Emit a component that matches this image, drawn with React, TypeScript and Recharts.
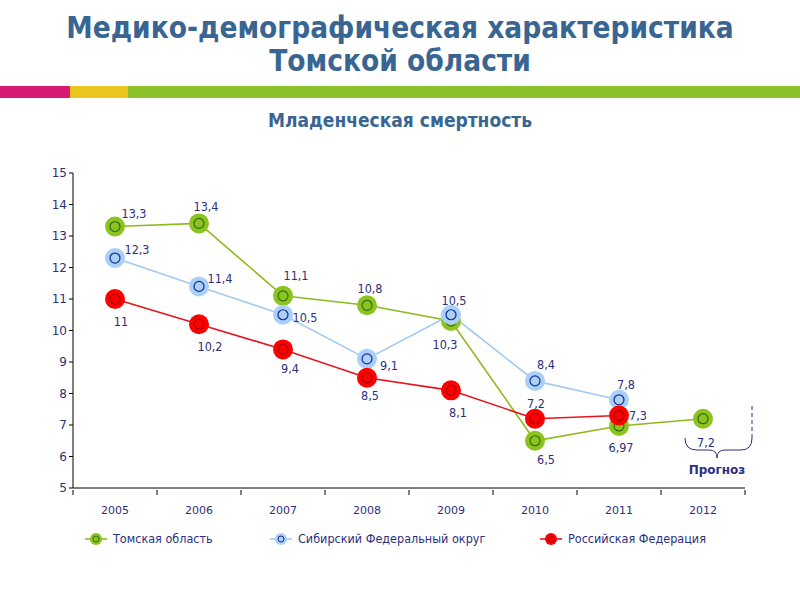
import { ComposedChart, Line, XAxis, YAxis, LabelList } from "recharts";

const years = ["2005", "2006", "2007", "2008", "2009", "2010", "2011", "2012"];
const tomsk = [13.3, 13.4, 11.1, 10.8, 10.3, 6.5, 6.97, 7.2];
const sfo = [12.3, 11.4, 10.5, 9.1, 10.5, 8.4, 7.8, null];
const rf = [11, 10.2, 9.4, 8.5, 8.1, 7.2, 7.3, null];
const yTicks = [5, 6, 7, 8, 9, 10, 11, 12, 13, 14, 15];

// label offsets relative to the point (style only)
const tomskOff = [[19, -13], [7, -17], [13, -20], [3, -17], [-6, 23], [11, 19], [2, 22], [3, 24]];
const sfoOff = [[22, -9], [21, -8], [22, 3], [22, 7], [3, -14], [11, -16], [7, -15]];
const rfOff = [[6, 22], [11, 22], [7, 19], [3, 18], [7, 22], [1, -15], [19, 0]];

const data = years.map((year, i) => ({ year, tomsk: tomsk[i], sfo: sfo[i], rf: rf[i] }));

const NAVY = "#2d2f7c";
const TITLE = "#386592";

const series = [
  { key: "tomsk", name: "Томская область", line: "#8dbb1e", fill: "#8cc31e", inner: "#2f6e12", off: tomskOff },
  { key: "sfo", name: "Сибирский Федеральный округ", line: "#a3cbf2", fill: "#a8d0f8", inner: "#1b2a8c", off: sfoOff },
  { key: "rf", name: "Российская Федерация", line: "#e8141c", fill: "#ff0000", inner: "#a80000", off: rfOff },
];

const fmt = (v: number) => String(v).replace(".", ",");

function makeDot(fill: string, inner: string) {
  return (props: any) => {
    const { cx, cy, index } = props;
    if (cx == null || cy == null || props.value == null) return <g key={index} />;
    return (
      <g key={index}>
        <circle cx={cx} cy={cy} r={10} fill={fill} />
        <circle cx={cx} cy={cy} r={5} fill="none" stroke={inner} strokeWidth={1.2} />
      </g>
    );
  };
}

function makeLabel(off: number[][]) {
  return (props: any) => {
    const { x, y, value, index } = props;
    if (value == null || x == null) return null;
    const [dx, dy] = off[index] || [0, 0];
    return (
      <text
        x={x + dx}
        y={y + dy}
        textAnchor="middle"
        dominantBaseline="central"
        fontSize={12.5}
        fontFamily="DejaVu Sans Condensed"
        fill={NAVY}
      >
        {fmt(value)}
      </text>
    );
  };
}

function XTick(props: any) {
  const { x, y, payload, index } = props;
  const half = 42;
  return (
    <g>
      <line x1={x - half} y1={y} x2={x - half} y2={y + 5} stroke="#000" />
      {index === years.length - 1 && <line x1={x + half} y1={y} x2={x + half} y2={y + 5} stroke="#000" />}
      <text x={x} y={y + 24} textAnchor="middle" fontSize={11} fontFamily="DejaVu Sans" fill={NAVY}>
        {payload.value}
      </text>
    </g>
  );
}

export default function App() {
  return (
    <div style={{ position: "absolute", left: 0, top: 0, width: 800, height: 600, background: "#fff", overflow: "hidden" }}>
      <div
        style={{
          position: "absolute",
          top: 12,
          left: 0,
          width: 800,
          textAlign: "center",
          fontFamily: "DejaVu Sans Condensed",
          fontWeight: "bold",
          fontSize: 29.5,
          lineHeight: "33px",
          color: TITLE,
        }}
      >
        Медико-демографическая характеристика
        <br />
        Томской области
      </div>
      <div style={{ position: "absolute", top: 86, left: 0, width: 70, height: 12, background: "#d81a74" }} />
      <div style={{ position: "absolute", top: 86, left: 70, width: 58, height: 12, background: "#eac51d" }} />
      <div style={{ position: "absolute", top: 86, left: 128, width: 672, height: 12, background: "#8bc12b" }} />
      <div
        style={{
          position: "absolute",
          top: 109,
          left: 0,
          width: 800,
          textAlign: "center",
          fontFamily: "DejaVu Sans Condensed",
          fontWeight: "bold",
          fontSize: 19,
          color: TITLE,
        }}
      >
        Младенческая смертность
      </div>

      <div style={{ position: "absolute", top: 0, left: 0 }}>
        <ComposedChart width={800} height={530} data={data} margin={{ top: 173, right: 55, bottom: 12, left: 33 }}>
          <XAxis
            dataKey="year"
            height={30}
            padding={{ left: 42, right: 42 }}
            axisLine={{ stroke: "#000" }}
            tickLine={false}
            tickSize={0}
            tick={<XTick />}
            interval={0}
          />
          <YAxis
            width={40}
            domain={[5, 15]}
            ticks={yTicks}
            interval={0}
            axisLine={{ stroke: "#000" }}
            tickLine={{ stroke: "#000" }}
            tickSize={4}
            tick={{ fill: NAVY, fontSize: 12, fontFamily: "DejaVu Sans" }}
          />
          {series.map((s) => (
            <Line
              key={s.key}
              dataKey={s.key}
              name={s.name}
              type="linear"
              stroke={s.line}
              strokeWidth={1.6}
              dot={makeDot(s.fill, s.inner)}
              activeDot={false}
              isAnimationActive={false}
            >
              <LabelList dataKey={s.key} content={makeLabel(s.off)} />
            </Line>
          ))}
        </ComposedChart>
      </div>

      <svg width={800} height={600} style={{ position: "absolute", top: 0, left: 0, pointerEvents: "none" }}>
        <path
          d="M 685 438 Q 685 450 697 450 L 709 450 Q 717 450 717 458 Q 717 450 725 450 L 741 450 Q 752 450 752 438"
          fill="none"
          stroke={NAVY}
          strokeWidth={1}
        />
        <line x1={752} y1={406} x2={752} y2={438} stroke={NAVY} strokeDasharray="4 3" />
        <text x={717} y={474} textAnchor="middle" fontSize={12} fontWeight="bold" fontFamily="DejaVu Sans" fill={NAVY}>
          Прогноз
        </text>
        {series.map((s, i) => {
          const x0 = [85, 270, 540][i];
          return (
            <g key={s.key}>
              <line x1={x0} y1={539} x2={x0 + 22} y2={539} stroke={s.line} strokeWidth={1.6} />
              <circle cx={x0 + 11} cy={539} r={6} fill={s.fill} />
              <circle cx={x0 + 11} cy={539} r={3} fill="none" stroke={s.inner} strokeWidth={1} />
              <text x={x0 + 28} y={543} fontSize={12.5} fontFamily="DejaVu Sans Condensed" fill={NAVY}>
                {s.name}
              </text>
            </g>
          );
        })}
      </svg>
    </div>
  );
}
